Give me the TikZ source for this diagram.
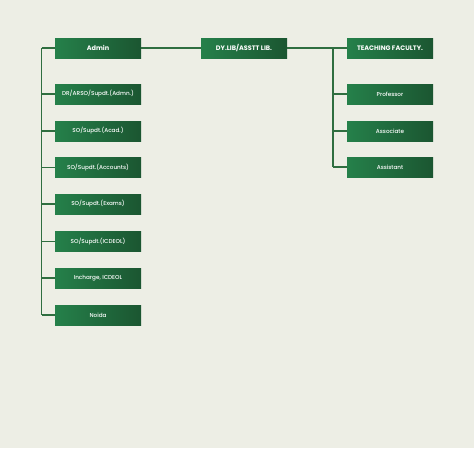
\documentclass[tikz,border=0pt]{standalone}
\usepackage{fontspec}
\setmainfont{Poppins}[UprightFont=* Medium, BoldFont=* Bold]
\definecolor{bgc}{HTML}{EDEEE5}
\definecolor{linec}{HTML}{2F6E40}
\definecolor{boxl}{HTML}{25804A}
\definecolor{boxr}{HTML}{1B5631}
\begin{document}
\begin{tikzpicture}[x=1pt,y=-1pt,
  box/.style={shading=axis,left color=boxl,right color=boxr,shading angle=90,
    minimum width=86pt,minimum height=20pt,inner sep=0pt,text=white,font=\fontsize{5.7}{7}\selectfont},
  headbox/.style={box,font=\fontsize{6.5}{7}\selectfont\bfseries},
  conn/.style={draw=linec,line width=1.4pt}]
\fill[bgc] (0,0) rectangle (474,448);
\useasboundingbox (0,0) rectangle (474,448);
\node[headbox] (admin) at (98,48) {Admin};
\node[box] (dr) at (98,94) {DR/ARSO/Supdt.(Admn.)};
\node[box] (acad) at (98,131) {SO/Supdt.(Acad.)};
\node[box] (acc) at (98,167.5) {SO/Supdt.(Accounts)};
\node[box] (exams) at (98,204) {SO/Supdt.(Exams)};
\node[box] (icdeol) at (98,241.5) {SO/Supdt.(ICDEOL)};
\node[box] (inch) at (98,278) {Incharge, ICDEOL};
\node[box] (noida) at (98,315) {Noida};
\node[headbox] (dy) at (244,48) {DY.LIB/ASSTT LIB.};
\node[headbox] (tf) at (390,48) {TEACHING FACULTY.};
\node[box] (prof) at (390,94) {Professor};
\node[box] (assoc) at (390,131) {Associate};
\node[box] (asst) at (390,167) {Assistant};
\coordinate (ltop) at (41.5,48);
\coordinate (lbot) at (41.5,315);
\coordinate (rtop) at (333,48);
\coordinate (rbot) at (333,167);
\draw[conn] (ltop) -- (lbot);
\foreach \n in {admin,dr,acad,acc,exams,icdeol,inch,noida}
  \draw[conn] (ltop |- \n.west) -- (\n.west);
\draw[conn] (admin.east) -- (dy.west);
\draw[conn] (dy.east) -- (tf.west);
\draw[conn] (rtop) -- (rbot);
\foreach \n in {prof,assoc,asst}
  \draw[conn] (rtop |- \n.west) -- (\n.west);
\end{tikzpicture}
\end{document}
